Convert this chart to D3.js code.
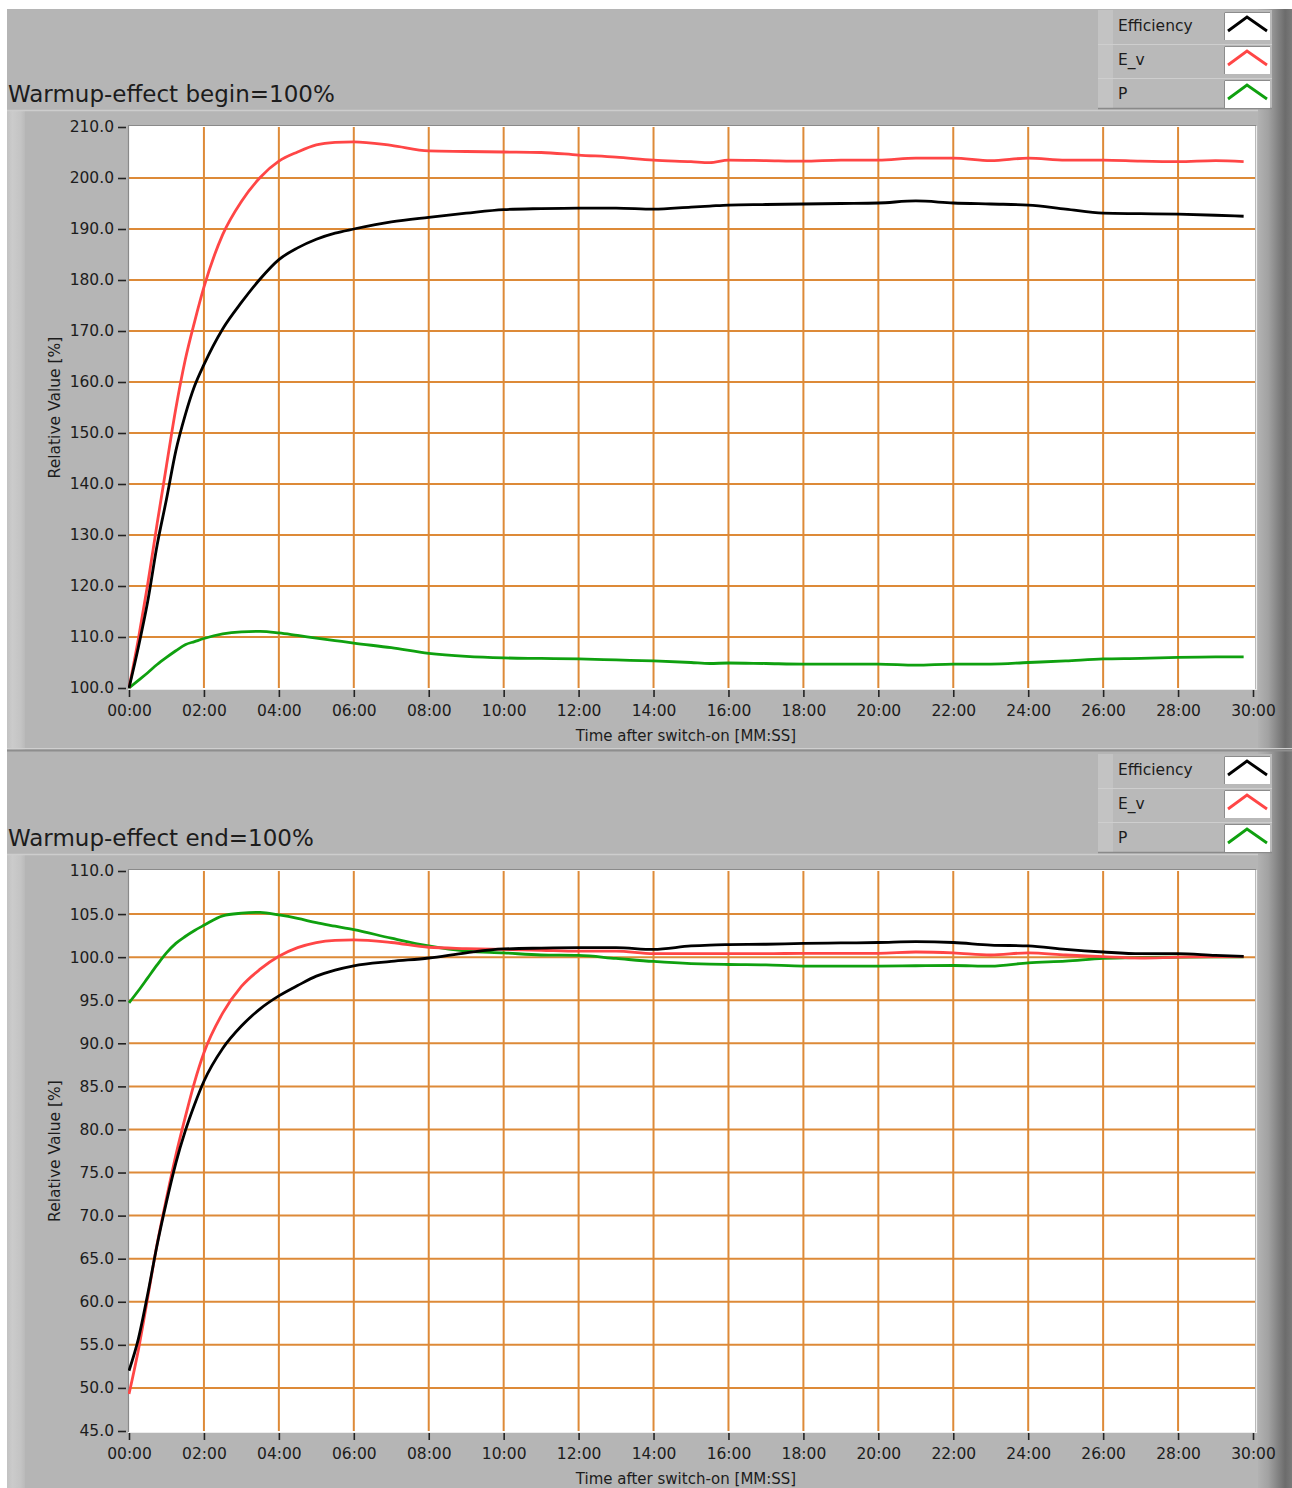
<!DOCTYPE html>
<html>
<head>
<meta charset="utf-8">
<script src="https://cdn.jsdelivr.net/npm/d3@7/dist/d3.min.js"></script>
<style>
  html, body { margin: 0; padding: 0; background: #ffffff; }
  svg { display: block; }
  text { font-family: "DejaVu Sans", Verdana, sans-serif; fill: #1c1c1c; }
</style>
</head>
<body>
<svg id="chart" width="1292" height="1488"></svg>
<script>
// ---------------- DATA ----------------
const seriesNames = ["Efficiency", "E_v", "P"];
const panelTitles = ["Warmup-effect begin=100%", "Warmup-effect end=100%"];
const xAxisTitle = "Time after switch-on [MM:SS]";
const yAxisTitle = "Relative Value [%]";

// time after switch-on, minutes
const times = [0, 0.25, 0.5, 0.75, 1, 1.25, 1.5, 1.75, 2, 2.5, 3, 3.5, 4, 4.5, 5, 5.5, 6,
  7, 8, 9, 10, 11, 12, 13, 14, 15, 15.5, 16, 17, 18, 19, 20, 21, 22, 23, 24, 25, 26, 27, 28, 29, 29.75];

// Panel 1: begin = 100%
const beginEff = [100, 108, 117, 128, 137, 146.5, 153.5, 159.2, 163.4, 170.4, 175.6, 180.2, 184.0, 186.3, 188, 189.2, 190,
  191.4, 192.3, 193.1, 193.8, 194.0, 194.1, 194.1, 193.9, 194.3, 194.5, 194.7, 194.8, 194.9, 195.0, 195.1, 195.5, 195.1,
  194.9, 194.7, 193.9, 193.1, 193.0, 192.9, 192.7, 192.5];
const beginEv = [100, 109.6, 120.4, 132.2, 143.6, 154.8, 164.3, 171.8, 178.6, 188.9, 195.4, 200.1, 203.3, 205.1, 206.5, 207.0, 207.1,
  206.4, 205.3, 205.2, 205.1, 205.0, 204.5, 204.1, 203.5, 203.2, 203.0, 203.5, 203.4, 203.3, 203.5, 203.5, 203.9, 203.9,
  203.4, 203.9, 203.5, 203.5, 203.3, 203.2, 203.4, 203.2];
const beginP = [100, 101.5, 103, 104.6, 106, 107.3, 108.5, 109.1, 109.7, 110.6, 111.0, 111.1, 110.8, 110.3, 109.8, 109.3, 108.8,
  107.9, 106.8, 106.2, 105.9, 105.8, 105.7, 105.5, 105.3, 105.0, 104.8, 104.9, 104.8, 104.7, 104.7, 104.7, 104.5, 104.7,
  104.7, 105.0, 105.3, 105.7, 105.8, 106.0, 106.1, 106.1];

// Panel 2: end = 100%
const endEff = [52.0, 55.7, 60.9, 66.6, 71.6, 76.1, 79.8, 82.9, 85.6, 89.4, 92.0, 94.0, 95.5, 96.7, 97.8, 98.5, 99.0,
  99.5, 99.9, 100.5, 100.95, 101.05, 101.1, 101.1, 100.9, 101.3, 101.4, 101.45, 101.5, 101.6, 101.65, 101.7, 101.8, 101.7,
  101.4, 101.3, 100.9, 100.6, 100.4, 100.4, 100.2, 100.1];
const endEv = [49.3, 54.4, 60.5, 66.7, 72.0, 77.0, 81.4, 85.5, 88.9, 93.5, 96.6, 98.6, 100.1, 101.1, 101.7, 101.95, 102.0,
  101.7, 101.15, 101.0, 100.9, 100.8, 100.7, 100.7, 100.4, 100.4, 100.4, 100.4, 100.4, 100.45, 100.45, 100.45, 100.6, 100.5,
  100.25, 100.5, 100.25, 100.05, 99.9, 100.0, 100.05, 100.05];
const endP = [94.7, 96.1, 97.6, 99.1, 100.5, 101.6, 102.4, 103.1, 103.7, 104.8, 105.1, 105.2, 104.9, 104.5, 104.0, 103.6, 103.2,
  102.2, 101.3, 100.7, 100.5, 100.25, 100.2, 99.85, 99.5, 99.26, 99.2, 99.15, 99.1, 98.96, 98.96, 98.96, 99.0, 99.03,
  98.96, 99.34, 99.54, 99.85, 99.96, 100.0, 100.04, 100.04];

const xTicks = [0, 2, 4, 6, 8, 10, 12, 14, 16, 18, 20, 22, 24, 26, 28, 30];
const xTickLabels = ["00:00", "02:00", "04:00", "06:00", "08:00", "10:00", "12:00", "14:00", "16:00",
  "18:00", "20:00", "22:00", "24:00", "26:00", "28:00", "30:00"];
const beginYTicks = [100, 110, 120, 130, 140, 150, 160, 170, 180, 190, 200, 210];
const endYTicks = [45, 50, 55, 60, 65, 70, 75, 80, 85, 90, 95, 100, 105, 110];

// ---------------- STYLE ----------------
const colors = ["#000000", "#ff4646", "#0fa00f"];
const gridColor = "#dd8a38";
const panelGray = "#b5b5b5";

const svg = d3.select("#chart");
const defs = svg.append("defs");

const rg = defs.append("linearGradient").attr("id", "rightStrip").attr("x1", 0).attr("x2", 1).attr("y1", 0).attr("y2", 0);
[[0, "#b2b2b2"], [0.3, "#a2a2a2"], [0.8, "#6c6c6c"], [1, "#7a7a7a"]].forEach(s =>
  rg.append("stop").attr("offset", s[0]).attr("stop-color", s[1]));
const lg = defs.append("linearGradient").attr("id", "leftStrip").attr("x1", 0).attr("x2", 1).attr("y1", 0).attr("y2", 0);
[[0, "#c2c2c2"], [0.3, "#cbcbcb"], [0.75, "#c4c4c4"], [1, "#bababa"]].forEach(s =>
  lg.append("stop").attr("offset", s[0]).attr("stop-color", s[1]));

const panels = [
  { y0: 9, height: 744, plotTop: 127, plotBottom: 688, yTicks: beginYTicks, title: panelTitles[0],
    series: [beginEff, beginEv, beginP], last: false },
  { y0: 753, height: 745, plotTop: 871, plotBottom: 1431, yTicks: endYTicks, title: panelTitles[1],
    series: [endEff, endEv, endP], last: true }
];

const plotLeft = 129, plotRight = 1253;
const x = d3.scaleLinear().domain([0, 30]).range([plotLeft, plotRight]);

panels.forEach((p, pi) => {
  const g = svg.append("g");
  const y0 = p.y0;
  const yDom = d3.extent(p.yTicks);
  const y = d3.scaleLinear().domain(yDom).range([p.plotBottom, p.plotTop]);

  // panel background
  g.append("rect").attr("x", 7).attr("y", y0).attr("width", 1285).attr("height", p.height).attr("fill", panelGray);

  // graph frame (below header)
  const frameTop = y0 + 101;
  const frameH = p.last ? p.height - 101 : p.height - 104;
  g.append("rect").attr("x", 7).attr("y", frameTop).attr("width", 18).attr("height", frameH)
    .attr("fill", "url(#leftStrip)");
  g.append("line").attr("x1", 7).attr("x2", 1292).attr("y1", frameTop + 0.5).attr("y2", frameTop + 0.5)
    .attr("stroke", "#cdcdcd").attr("stroke-width", 1.5);

  // right darker strip
  g.append("rect").attr("x", 1258).attr("y", y0).attr("width", 34).attr("height", p.height)
    .attr("fill", "url(#rightStrip)");

  // bottom separator
  if (!p.last) {
    g.append("line").attr("x1", 7).attr("x2", 1292).attr("y1", y0 + 739.5).attr("y2", y0 + 739.5)
      .attr("stroke", "#cfcfcf").attr("stroke-width", 1);
    g.append("line").attr("x1", 7).attr("x2", 1292).attr("y1", y0 + 741.5).attr("y2", y0 + 741.5)
      .attr("stroke", "#8e8e8e").attr("stroke-width", 2);
  }

  // title
  g.append("text").attr("x", 8).attr("y", y0 + 93).attr("font-size", 23).attr("fill", "#1a1a1a")
    .text(p.title);

  // legend
  const lx = 1098, lw = 174;
  const leg = g.append("g");
  leg.append("rect").attr("x", lx).attr("y", y0 + 1).attr("width", lw).attr("height", 98).attr("fill", "#b9b9b9");
  leg.append("rect").attr("x", lx).attr("y", y0 + 1).attr("width", 15).attr("height", 98).attr("fill", "#c3c3c3");
  leg.append("line").attr("x1", lx).attr("x2", lx + lw).attr("y1", y0 + 99.5).attr("y2", y0 + 99.5)
    .attr("stroke", "#8a8a8a").attr("stroke-width", 1.5);
  seriesNames.forEach((name, i) => {
    const ry = y0 + 1 + i * 34;
    if (i > 0) {
      leg.append("line").attr("x1", lx).attr("x2", lx + lw).attr("y1", ry + 0.5).attr("y2", ry + 0.5)
        .attr("stroke", "#cecece").attr("stroke-width", 1);
    }
    leg.append("text").attr("x", 1118).attr("y", ry + 21).attr("font-size", 15.5).text(name);
    // swatch
    const sx = 1224, sy = ry + 2, sw = 46, sh = 28;
    leg.append("rect").attr("x", sx).attr("y", sy).attr("width", sw).attr("height", sh).attr("fill", "#ffffff");
    leg.append("path").attr("d", `M${sx + 0.5},${sy + sh} V${sy + 0.5} H${sx + sw}`)
      .attr("fill", "none").attr("stroke", "#8c8c8c").attr("stroke-width", 1);
    leg.append("path").attr("d", `M${sx + 4},${sy + 19} L${sx + 23},${sy + 5} L${sx + 43},${sy + 19}`)
      .attr("fill", "none").attr("stroke", colors[i]).attr("stroke-width", 2.8).attr("stroke-linejoin", "miter");
  });

  // plot area
  g.append("rect").attr("x", plotLeft - 1).attr("y", p.plotTop - 1).attr("width", 1255 - plotLeft + 1)
    .attr("height", p.plotBottom - p.plotTop + 2).attr("fill", "#ffffff");

  // grid
  g.append("g").selectAll("line").data(xTicks.filter(t => t > 0 && t < 30)).join("line")
    .attr("x1", d => x(d)).attr("x2", d => x(d)).attr("y1", p.plotTop).attr("y2", p.plotBottom)
    .attr("stroke", gridColor).attr("stroke-width", 2);
  g.append("g").selectAll("line").data(p.yTicks.filter(v => v > yDom[0] && v < yDom[1])).join("line")
    .attr("x1", plotLeft).attr("x2", 1255).attr("y1", d => y(d)).attr("y2", d => y(d))
    .attr("stroke", gridColor).attr("stroke-width", 2);

  // sunken border
  g.append("path").attr("d", `M${plotLeft - 0.5},${p.plotBottom + 1} V${p.plotTop - 1.5} H1256`)
    .attr("fill", "none").attr("stroke", "#8a8a8a").attr("stroke-width", 1.2);
  g.append("path").attr("d", `M${plotLeft - 1},${p.plotBottom + 1.5} H1256.5 V${p.plotTop - 1}`)
    .attr("fill", "none").attr("stroke", "#ececec").attr("stroke-width", 1.2);

  // clip
  const cid = "clip" + pi;
  defs.append("clipPath").attr("id", cid).append("rect")
    .attr("x", plotLeft - 1).attr("y", p.plotTop - 2).attr("width", 1255 - plotLeft + 2)
    .attr("height", p.plotBottom - p.plotTop + 4);

  // series lines (draw P first, then E_v, then Efficiency on top)
  const line = d3.line().curve(d3.curveMonotoneX).x(d => x(d.t)).y(d => y(d.v));
  const lines = g.append("g").attr("clip-path", `url(#${cid})`);
  [2, 1, 0].forEach(si => {
    const data = times.map((t, k) => ({ t: t, v: p.series[si][k] }));
    lines.append("path").datum(data).attr("d", line)
      .attr("fill", "none").attr("stroke", colors[si]).attr("stroke-width", 2.8)
      .attr("stroke-linejoin", "round");
  });

  // Y axis
  const yAxis = d3.axisLeft(y).tickValues(p.yTicks).tickFormat(d3.format(".1f")).tickSize(8).tickPadding(4);
  const ya = g.append("g").attr("transform", `translate(${plotLeft - 3},0)`).call(yAxis);
  ya.select(".domain").remove();
  ya.selectAll(".tick line").attr("stroke", "#222").attr("stroke-width", 1.6);
  ya.selectAll(".tick text").attr("font-size", 15.5).attr("font-family", "DejaVu Sans").attr("fill", "#1c1c1c");

  // X axis
  const xAxis = d3.axisBottom(x).tickValues(xTicks).tickFormat((d, i) => xTickLabels[i]).tickSize(7).tickPadding(8);
  const xa = g.append("g").attr("transform", `translate(0,${p.plotBottom + 2})`).call(xAxis);
  xa.select(".domain").remove();
  xa.selectAll(".tick line").attr("stroke", "#222").attr("stroke-width", 1.6);
  xa.selectAll(".tick text").attr("font-size", 15.5).attr("font-family", "DejaVu Sans").attr("fill", "#1c1c1c");

  // axis titles
  g.append("text").attr("x", 686).attr("y", p.plotBottom + 53).attr("text-anchor", "middle")
    .attr("font-size", 15).text(xAxisTitle);
  g.append("text").attr("transform", `translate(60,${(p.plotTop + p.plotBottom) / 2}) rotate(-90)`)
    .attr("text-anchor", "middle").attr("font-size", 15.5).text(yAxisTitle);
});
</script>
</body>
</html>
